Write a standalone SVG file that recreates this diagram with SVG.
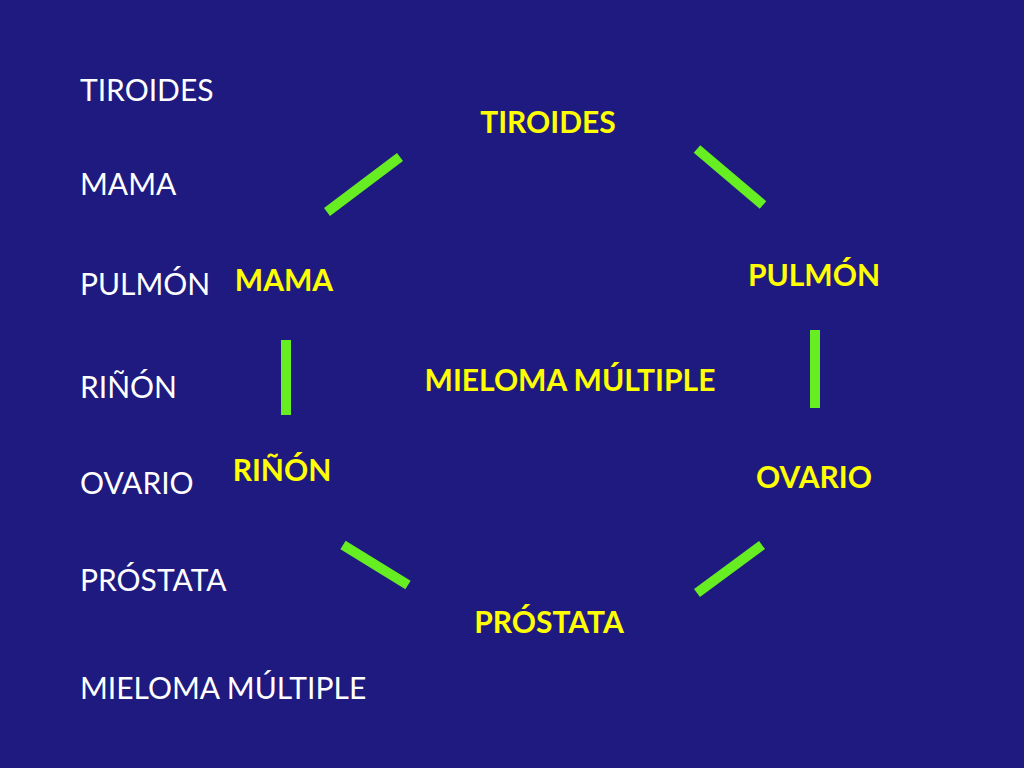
<svg xmlns="http://www.w3.org/2000/svg" width="1024" height="768" viewBox="0 0 1024 768">
<style>
.l{font-family:Lato,"Open Sans",sans-serif;font-size:30px;fill:#ffffff}
.y{font-family:Lato,"Open Sans",sans-serif;font-size:30px;font-weight:bold;fill:#ffff00;text-anchor:middle}
.c{stroke:#66ee22;stroke-width:10}
</style>
<rect width="1024" height="768" fill="#1f1a80"/>
<g id="list">
<text class="l" x="80" y="101">TIROIDES</text>
<text class="l" x="80" y="195">MAMA</text>
<text class="l" x="80" y="295">PULMÓN</text>
<text class="l" x="80" y="398">RIÑÓN</text>
<text class="l" x="80" y="494">OVARIO</text>
<text class="l" x="80" y="591">PRÓSTATA</text>
<text class="l" x="80" y="699">MIELOMA MÚLTIPLE</text>
</g>
<g id="connectors">
<line class="c" x1="327" y1="212" x2="400" y2="157"/>
<line class="c" x1="697" y1="149" x2="763" y2="205"/>
<line class="c" x1="286" y1="340" x2="286" y2="415"/>
<line class="c" x1="815" y1="330" x2="815" y2="408"/>
<line class="c" x1="343" y1="545" x2="408" y2="585"/>
<line class="c" x1="697" y1="593" x2="762" y2="545"/>
</g>
<g id="tiroides"><text class="y" x="548" y="133">TIROIDES</text></g>
<g id="pulmon"><text class="y" x="814" y="286">PULMÓN</text></g>
<g id="mama"><text class="y" x="284" y="291">MAMA</text></g>
<g id="mieloma"><text class="y" x="570" y="391">MIELOMA MÚLTIPLE</text></g>
<g id="rinon"><text class="y" x="282" y="481">RIÑÓN</text></g>
<g id="ovario"><text class="y" x="814" y="488">OVARIO</text></g>
<g id="prostata"><text class="y" x="549" y="633">PRÓSTATA</text></g>
</svg>
